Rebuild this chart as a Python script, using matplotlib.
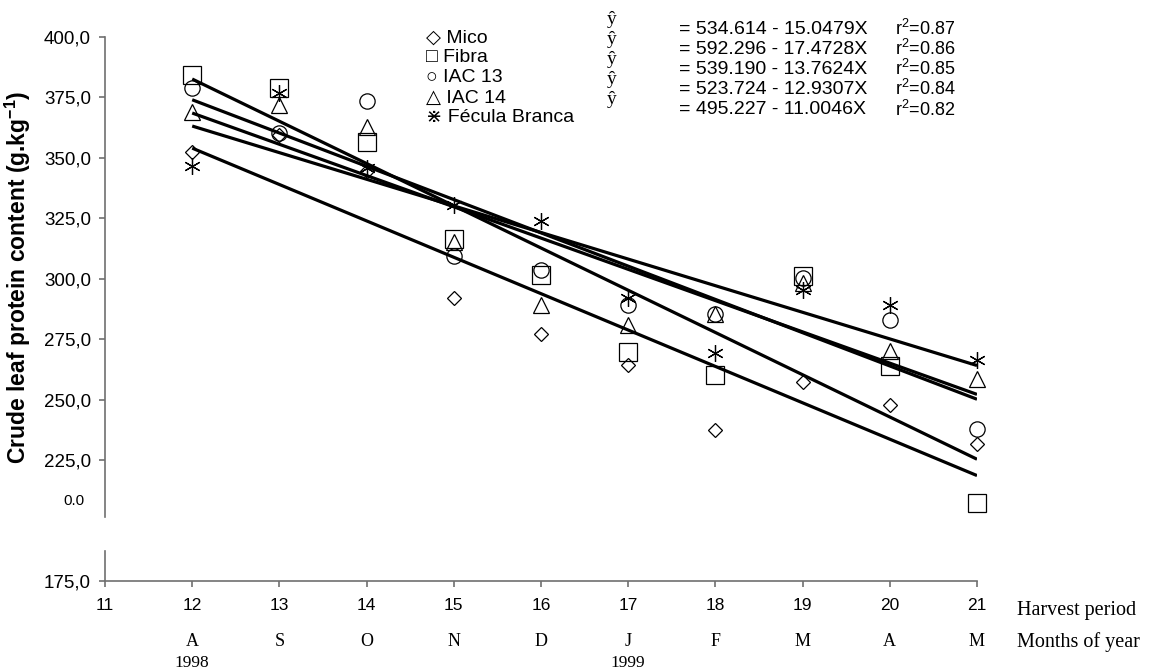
import matplotlib
matplotlib.use("Agg")
import matplotlib.pyplot as plt
import numpy as np

plt.rcParams['font.family'] = ['Liberation Sans', 'DejaVu Sans']
plt.rcParams['mathtext.fontset'] = 'custom'
plt.rcParams['mathtext.rm'] = 'Liberation Sans'
plt.rcParams['mathtext.bf'] = 'Liberation Sans:bold'
plt.rcParams['mathtext.it'] = 'Liberation Sans:italic'

# ---- data ----
harvest = [12, 13, 14, 15, 16, 17, 18, 19, 20, 21]
months = ["A", "S", "O", "N", "D", "J", "F", "M", "A", "M"]
cultivars = ["Mico", "Fibra", "IAC 13", "IAC 14", "Fécula Branca"]
mico = [352.6, 359.5, 344.5, 292.0, 277.3, 264.5, 237.3, 257.2, 248.0, 231.8]
fibra = [384.3, 379.0, 356.7, 316.4, 301.7, 269.6, 260.3, 301.0, 264.0, 207.3]
iac13 = [378.8, 360.2, 373.7, 309.5, 303.7, 289.3, 285.5, 300.3, 283.0, 237.9]
iac14 = [369.0, 371.9, 362.9, 315.4, 289.0, 281.0, 285.5, 298.2, 270.0, 258.6]
fecula = [346.5, 377.0, 346.0, 330.6, 324.0, 292.0, 269.3, 295.5, 289.3, 266.3]
intercepts = [534.614, 592.296, 539.190, 523.724, 495.227]
slopes = [15.0479, 17.4728, 13.7624, 12.9307, 11.0046]
r2 = ["0.87", "0.86", "0.85", "0.84", "0.82"]
yticks = [175, 225, 250, 275, 300, 325, 350, 375, 400]
xticks = list(range(11, 22))

series = [mico, fibra, iac13, iac14, fecula]
markers = ['D', 's', 'o', '^', (6, 2, 0)]
msizes = [6.8, 13, 11, 11, 12]
legend_glyphs = ["◇", "□", "○", "△", "⋇"]

W, H = 1149, 671
fig = plt.figure(figsize=(W / 100, H / 100), dpi=100)
L, R, T, B = 105, 977, 37, 581
ax = fig.add_axes([L / W, 1 - B / H, (R - L) / W, (B - T) / H])

def fx(px):
    return px / W

def fy(py):
    return 1 - py / H

xs = np.array(harvest, dtype=float)
for vals, m, ms in zip(series, markers, msizes):
    ax.plot(xs, vals, linestyle='none', marker=m, markersize=ms,
            markerfacecolor='none', markeredgecolor='black',
            markeredgewidth=0.9, clip_on=False, zorder=3)

xl = np.array([harvest[0], harvest[-1]], dtype=float)
for a, b in zip(intercepts, slopes):
    ax.plot(xl, a - b * xl, color='black', linewidth=2.3, solid_capstyle='butt', zorder=4)

ax.set_xlim(11, 21)
ax.set_ylim(175, 400)
ax.set_xticks(xticks)
ax.set_xticklabels([str(v) for v in xticks], fontsize=12.5)
ax.set_yticks(yticks)
ax.set_yticklabels([f"{v:.1f}".replace('.', ',') for v in yticks], fontsize=13.5)

for s in ['top', 'right']:
    ax.spines[s].set_visible(False)
ax.spines['left'].set_visible(False)
ax.spines['bottom'].set_color('#707070')
ax.spines['bottom'].set_linewidth(1.2)
ax.tick_params(axis='both', colors='#707070', labelcolor='black', direction='out', length=4, width=1.2)
ax.tick_params(axis='x', pad=8)
ax.tick_params(axis='y', pad=6)

# broken left axis line
yt = ax.get_yaxis_transform()
ax.plot([0, 0], [400, 201.6], color='#707070', linewidth=1.2, transform=yt, clip_on=False)
ax.plot([0, 0], [187.6, 175], color='#707070', linewidth=1.2, transform=yt, clip_on=False)
ax.text(-0.023, 208.0, "0.0", transform=yt, ha='right', va='center', fontsize=11)

# y label
fig.text(fx(18), fy(277), r"Crude leaf protein content (g.kg$^{\mathbf{-1}}$)",
         rotation=90, ha='center', va='center', fontsize=16.5, fontweight='bold')

# month labels
xt = ax.get_xaxis_transform()
for h, mth in zip(harvest, months):
    ax.text(h, (B - 642) / (B - T), mth, transform=xt, ha='center', va='center',
            fontsize=13, family='Liberation Serif')
ax.text(12, (B - 663) / (B - T), "1998", transform=xt, ha='center', va='center',
        fontsize=12.5, family='Liberation Serif')
ax.text(17, (B - 663) / (B - T), "1999", transform=xt, ha='center', va='center',
        fontsize=12.5, family='Liberation Serif')
fig.text(fx(1017), fy(610), "Harvest period", ha='left', va='center',
         fontsize=14.5, family='Liberation Serif')
fig.text(fx(1017), fy(642), "Months of year", ha='left', va='center',
         fontsize=14.5, family='Liberation Serif')

# legend and equations
leg_y = [38, 58, 78, 98, 118]
eq_y = [29, 49, 69, 89, 110]
yhat_y = [19, 39, 59, 79, 99]
for i, name in enumerate(cultivars):
    fig.text(fx(426), fy(leg_y[i]), legend_glyphs[i] + " " + name, ha='left', va='center',
             fontsize=14, family=['Liberation Sans', 'DejaVu Sans'])
    fig.text(fx(612), fy(yhat_y[i]), "ŷ", ha='center', va='center', fontsize=14,
             family='Liberation Serif')
    fig.text(fx(679), fy(eq_y[i]), f"= {intercepts[i]:.3f} - {slopes[i]:.4f}X",
             ha='left', va='center', fontsize=14)
    fig.text(fx(895), fy(eq_y[i]), r"r$^2$=" + r2[i], ha='left', va='center', fontsize=13)

fig.savefig("out.png", dpi=100)
